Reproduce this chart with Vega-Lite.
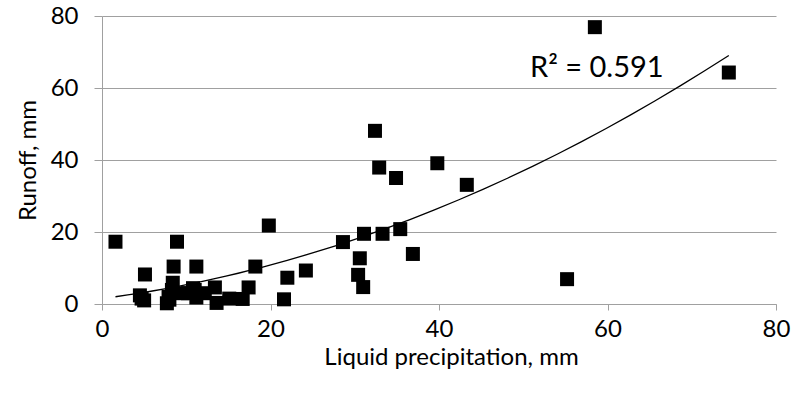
{
  "$schema": "https://vega.github.io/schema/vega-lite/v6.json",
  "width": 674,
  "height": 288,
  "autosize": {"type": "none"},
  "padding": {"left": 102, "top": 16, "right": 15, "bottom": 94},
  "background": "white",
  "config": {
    "view": {"stroke": null},
    "font": "Lato",
    "axis": {
      "labelFont": "Lato",
      "titleFont": "Lato",
      "labelFontSize": 24,
      "titleFontSize": 24,
      "labelColor": "#000000",
      "titleColor": "#000000",
      "titleFontWeight": "normal",
      "domainColor": "#A0A0A0",
      "tickColor": "#A0A0A0",
      "gridColor": "#A0A0A0",
      "domainWidth": 1,
      "tickWidth": 1,
      "gridWidth": 1
    }
  },
  "data": {
    "values": [
      {"precip": 1.6, "runoff": 17.3},
      {"precip": 4.5, "runoff": 2.4},
      {"precip": 4.7, "runoff": 1.5},
      {"precip": 5.0, "runoff": 1.0},
      {"precip": 5.1, "runoff": 8.2},
      {"precip": 7.7, "runoff": 0.2},
      {"precip": 7.9, "runoff": 2.0},
      {"precip": 8.0, "runoff": 1.2},
      {"precip": 8.3, "runoff": 3.9},
      {"precip": 8.4, "runoff": 5.9},
      {"precip": 8.5, "runoff": 10.4},
      {"precip": 8.9, "runoff": 17.3},
      {"precip": 9.5, "runoff": 3.0},
      {"precip": 10.2, "runoff": 3.0},
      {"precip": 10.8, "runoff": 4.4},
      {"precip": 11.2, "runoff": 10.4},
      {"precip": 11.2, "runoff": 1.8},
      {"precip": 11.0, "runoff": 3.9},
      {"precip": 12.2, "runoff": 3.0},
      {"precip": 13.4, "runoff": 4.6},
      {"precip": 13.6, "runoff": 0.3},
      {"precip": 15.1, "runoff": 1.5},
      {"precip": 16.7, "runoff": 1.4},
      {"precip": 17.4, "runoff": 4.6},
      {"precip": 18.2, "runoff": 10.4},
      {"precip": 19.8, "runoff": 21.8},
      {"precip": 21.6, "runoff": 1.3},
      {"precip": 22.0, "runoff": 7.3},
      {"precip": 24.2, "runoff": 9.3},
      {"precip": 28.6, "runoff": 17.2},
      {"precip": 30.4, "runoff": 8.1},
      {"precip": 30.6, "runoff": 12.7},
      {"precip": 31.0, "runoff": 4.7},
      {"precip": 31.1, "runoff": 19.5},
      {"precip": 32.4, "runoff": 48.1},
      {"precip": 32.9, "runoff": 37.9},
      {"precip": 33.3, "runoff": 19.5},
      {"precip": 34.9, "runoff": 35.0},
      {"precip": 35.4, "runoff": 20.8},
      {"precip": 36.9, "runoff": 13.9},
      {"precip": 39.8, "runoff": 39.1},
      {"precip": 43.3, "runoff": 33.1},
      {"precip": 55.2, "runoff": 6.9},
      {"precip": 58.5, "runoff": 76.9},
      {"precip": 74.4, "runoff": 64.3}
    ]
  },
  "layer": [
    {
      "mark": {"type": "square", "size": 196, "color": "#000000", "opacity": 1, "filled": true},
      "encoding": {
        "x": {
          "field": "precip", "type": "quantitative",
          "scale": {"domain": [0, 80], "nice": false, "zero": true},
          "axis": {
            "title": "Liquid precipitation, mm",
            "values": [0, 20, 40, 60, 80],
            "grid": false,
            "tickSize": 6,
            "labelPadding": 7,
            "titlePadding": 4,
            "titleX": 349,
            "labelFlush": false
          }
        },
        "y": {
          "field": "runoff", "type": "quantitative",
          "scale": {"domain": [0, 80], "nice": false},
          "axis": {
            "title": "Runoff, mm",
            "values": [0, 20, 40, 60, 80],
            "grid": true,
            "tickSize": 8,
            "labelPadding": 16,
            "titlePadding": 10,
            "labelFlush": false
          }
        }
      }
    },
    {
      "transform": [
        {"regression": "runoff", "on": "precip", "method": "poly", "order": 2, "extent": [1.6, 74.4]}
      ],
      "mark": {"type": "line", "color": "#000000", "strokeWidth": 1.3},
      "encoding": {
        "x": {"field": "precip", "type": "quantitative"},
        "y": {"field": "runoff", "type": "quantitative"}
      }
    },
    {
      "data": {"values": [{"label": "R² = 0.591"}]},
      "mark": {"type": "text", "align": "left", "baseline": "middle", "font": "Lato", "fontSize": 29, "fill": "#000000", "fontWeight": "normal"},
      "encoding": {
        "x": {"datum": 50.8},
        "y": {"datum": 65.5},
        "text": {"field": "label", "type": "nominal"}
      }
    }
  ]
}
